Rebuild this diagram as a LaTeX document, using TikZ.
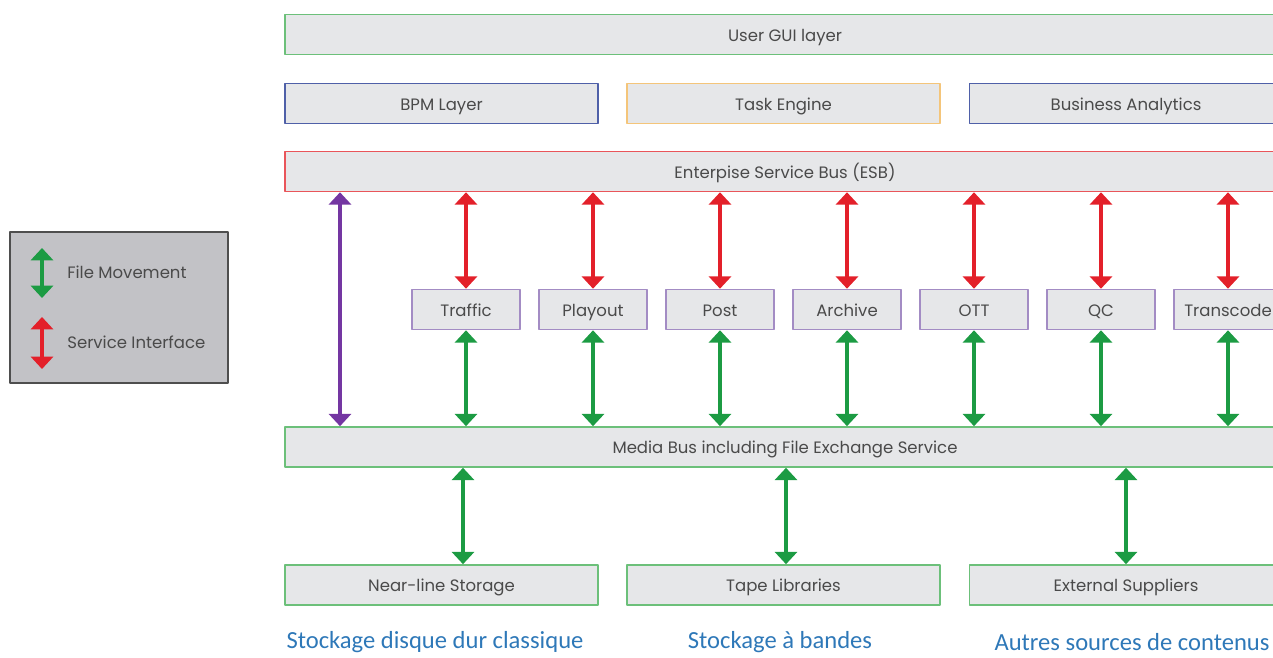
\documentclass[tikz,border=0pt]{standalone}
\usepackage{fontspec}
\setmainfont{Poppins}
\newfontfamily\capfont{Carlito}
\usetikzlibrary{arrows.meta}
\definecolor{boxgray}{HTML}{E6E7E9}
\definecolor{txtgray}{HTML}{4A4A4A}
\definecolor{guigreen}{HTML}{6CC07A}
\definecolor{bpmblue}{HTML}{4F60A8}
\definecolor{taskorange}{HTML}{F4C57A}
\definecolor{esbred}{HTML}{E9555A}
\definecolor{svcpurple}{HTML}{A38CC4}
\definecolor{filegreen}{HTML}{1C9B43}
\definecolor{sigred}{HTML}{E3202A}
\definecolor{esbpurple}{HTML}{7436A2}
\definecolor{leggray}{HTML}{C2C2C6}
\definecolor{legborder}{HTML}{4E4E4E}
\definecolor{capblue}{HTML}{2E78B8}
\begin{document}
\begin{tikzpicture}[x=0.02cm, y=-0.02cm, font=\fontsize{9.4}{11}\selectfont, line join=round,
	layer/.style={draw, fill=boxgray, line width=0.9pt, minimum height=0.8cm, text=txtgray, inner sep=0pt, text height=0.95em, text depth=0.2em},
	wide/.style={layer, minimum width=20cm},
	third/.style={layer, minimum width=6.26cm},
	svc/.style={layer, draw=svcpurple, minimum width=2.16cm},
	both/.style={line width=2.3pt, {Triangle[width=12.5pt,length=7pt]}-{Triangle[width=12.5pt,length=7pt]}},
	caption/.style={text=capblue, font=\capfont\fontsize{14}{16}\selectfont}]
	\clip (0,0) rectangle (1273,658);
	% top layers
	\node[wide, draw=guigreen] (gui) at (785,34.5) {User GUI layer};
	\node[third, draw=bpmblue] (bpm) at (441.5,103.5) {BPM Layer};
	\node[third, draw=taskorange] (task) at (783.5,103.5) {Task Engine};
	\node[third, draw=bpmblue] (bia) at (1126,103.5) {Business Analytics};
	\node[wide, draw=esbred] (esb) at (785,171.5) {Enterpise Service Bus (ESB)};
	\node[wide, draw=guigreen] (media) at (785,447) {Media Bus including File Exchange Service};
	% services
	\foreach \n/\x/\t in {traffic/466/Traffic, playout/593/Playout, post/720/Post, archive/847/Archive, ott/974/OTT, qc/1101/QC, transcode/1228/Transcode}{
		\node[svc] (\n) at (\x,309.5) {\t};
		\draw[both, sigred] (esb.south -| \n) -- (\n.north);
		\draw[both, filegreen] (\n.south) -- (media.north -| \n);
	}
	\coordinate (esbmedia) at (340,0);
	\draw[both, esbpurple] (esb.south -| esbmedia) -- (media.north -| esbmedia);
	% storage
	\node[third, draw=guigreen] (near) at (441.5,585) {Near-line Storage};
	\node[third, draw=guigreen] (tape) at (783.5,585) {Tape Libraries};
	\node[third, draw=guigreen] (ext) at (1126,585) {External Suppliers};
	\coordinate (nearlink) at (463,0);
	\coordinate (tapelink) at (786,0);
	\coordinate (extlink) at (1126,0);
	\draw[both, filegreen] (media.south -| nearlink) -- (near.north -| nearlink);
	\draw[both, filegreen] (media.south -| tapelink) -- (tape.north -| tapelink);
	\draw[both, filegreen] (media.south -| extlink) -- (ext.north -| extlink);
	\node[caption] (nearcap) at (435,642) {Stockage disque dur classique};
	\node[caption] (tapecap) at (780,642) {Stockage à bandes};
	\node[caption] (extcap) at (1132,642) {Autres sources de contenus};
	% legend
	\node[draw=legborder, fill=leggray, line width=1pt, minimum width=4.36cm, minimum height=3.02cm] (legend) at (119,307.5) {};
	\coordinate (fmtop) at (42,248);
	\coordinate (fmbot) at (42,298);
	\coordinate (sitop) at (42,317);
	\coordinate (sibot) at (42,369);
	\draw[both, filegreen] (fmtop) -- (fmbot);
	\draw[both, sigred] (sitop) -- (sibot);
	\node[anchor=west, text=txtgray, inner sep=0pt] (fmtext) at (67,272) {File Movement};
	\node[anchor=west, text=txtgray, inner sep=0pt] (sitext) at (67,342) {Service Interface};
\end{tikzpicture}
\end{document}
